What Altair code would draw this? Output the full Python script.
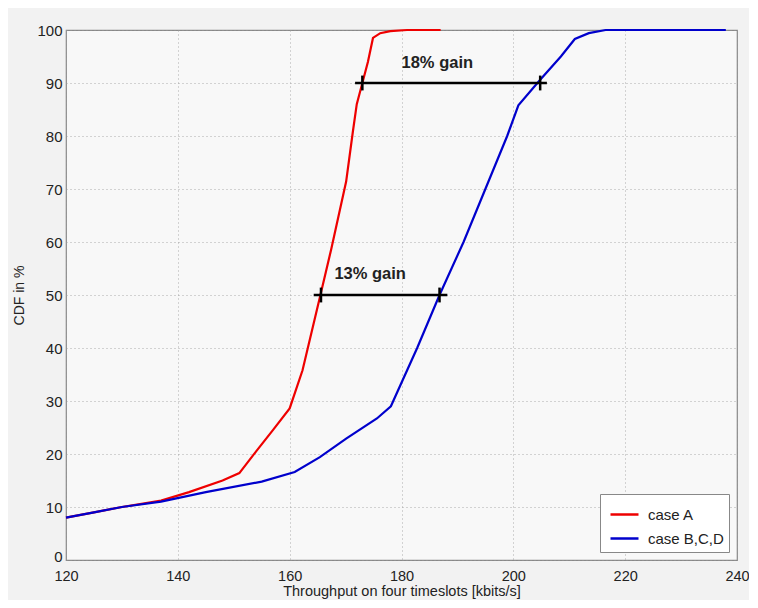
import altair as alt
import pandas as pd

# --- data ---
red_x = [120, 125, 130, 137, 142, 148, 151, 154, 157, 160, 162.3, 165.5, 167.4, 170.1, 171.3, 172, 173, 174, 174.9, 176.2, 178, 181, 187]
red_y = [8, 9, 10, 11.2, 12.8, 15, 16.4, 20.5, 24.5, 28.6, 35.8, 50, 58.5, 71.4, 80.8, 86, 90, 94, 98.5, 99.4, 99.8, 100, 100]

blue_x = [120, 125, 130, 137, 145, 155, 160.9, 165.4, 170.1, 175.6, 178.1, 182.8, 186.8, 191.1, 195, 198.9, 200.9, 204.8, 208.5, 211, 213.5, 216.5, 238]
blue_y = [8, 9, 10, 11, 12.8, 14.8, 16.6, 19.4, 22.9, 26.7, 29, 40, 50, 60, 70, 80, 85.8, 90.6, 95, 98.3, 99.4, 100, 100]

series_names = ["case A", "case B,C,D"]
series_colors = ["#ee0000", "#0000cc"]

# annotations: gain bars
bar_y = [90, 50]
bar_x1 = [171.7, 164.3]
bar_x2 = [206.0, 188.2]
marker_x = [173, 204.8, 165.6, 186.8]
marker_y = [90, 90, 50, 50]
gain_labels = ["18% gain", "13% gain"]
gain_label_x = [186.4, 174.4]
gain_label_y = [93.8, 54]

x_ticks = [120, 140, 160, 180, 200, 220, 240]
y_ticks = [0, 10, 20, 30, 40, 50, 60, 70, 80, 90, 100]

rows = []
for i, (x, y) in enumerate(zip(red_x, red_y)):
    rows.append({"x": x, "y": y, "series": series_names[0], "order": i})
for i, (x, y) in enumerate(zip(blue_x, blue_y)):
    rows.append({"x": x, "y": y, "series": series_names[1], "order": i})
df = pd.DataFrame(rows)

bars = pd.DataFrame({"y": bar_y, "x1": bar_x1, "x2": bar_x2})
markers = pd.DataFrame({"x": marker_x, "y": [v - 1.4 for v in marker_y], "y2": [v + 1.4 for v in marker_y]})
labels = pd.DataFrame({"x": gain_label_x, "y": gain_label_y, "text": gain_labels})

xscale = alt.Scale(domain=[120, 240], nice=False, zero=False)
yscale = alt.Scale(domain=[0, 100], nice=False)

FONT = "Liberation Sans"
xaxis = alt.Axis(values=x_ticks, title="Throughput on four timeslots [kbits/s]",
                 grid=True, gridDash=[1, 3], gridColor="#9a9a9a", gridOpacity=0.8,
                 ticks=False, labelPadding=9, labelFontSize=14.5, labelColor="#222",
                 labelFlush=False,
                 titleFontSize=14.5, titleFontWeight="normal", titleColor="#222",
                 titlePadding=2, domain=False, labelFont=FONT, titleFont=FONT)
yaxis = alt.Axis(values=y_ticks, title="CDF in %",
                 grid=True, gridDash=[1, 3], gridColor="#9a9a9a", gridOpacity=0.8,
                 ticks=False, labelPadding=4, labelFontSize=15, labelColor="#222",
                 labelFlush=False,
                 labelOffset={"condition": {"test": "datum.value == 0", "value": -4}, "value": 0},
                 titleFontSize=14, titleFontWeight="normal", titleColor="#222",
                 titlePadding=10, domain=False, labelFont=FONT, titleFont=FONT)

lines = alt.Chart(df).mark_line(strokeWidth=2.2).encode(
    x=alt.X("x:Q", scale=xscale, axis=xaxis),
    y=alt.Y("y:Q", scale=yscale, axis=yaxis),
    color=alt.Color("series:N",
                    scale=alt.Scale(domain=series_names, range=series_colors),
                    legend=alt.Legend(title=None, orient="bottom-right", offset=8,
                                      fillColor="white", strokeColor="#888",
                                      padding=5, symbolType="stroke", symbolStrokeWidth=2.5,
                                      symbolSize=784, symbolOffset=4,
                                      labelFontSize=15, labelFont=FONT,
                                      labelColor="#222", rowPadding=0, labelOffset=8)),
    order="order:Q",
)

bar_rules = alt.Chart(bars).mark_rule(color="black", strokeWidth=2.5).encode(
    x="x1:Q", x2="x2:Q", y="y:Q"
)
marker_rules = alt.Chart(markers).mark_rule(color="black", strokeWidth=2.5).encode(
    x="x:Q", y="y:Q", y2="y2:Q"
)
texts = alt.Chart(labels).mark_text(fontSize=16.5, fontWeight="bold", color="#222",
                                    font=FONT).encode(
    x="x:Q", y="y:Q", text="text:N"
)

chart = alt.layer(lines, bar_rules, marker_rules, texts).properties(
    width=671, height=530,
    background="#f2f2f2",
    padding={"left": 58, "top": 22, "right": 12, "bottom": 40},
    autosize=alt.AutoSizeParams(type="none"),
).configure_view(fill="#f8f8f8", stroke="#888", strokeWidth=1.2)

chart.save("out.html", embed_options={"renderer": "svg", "actions": False})
